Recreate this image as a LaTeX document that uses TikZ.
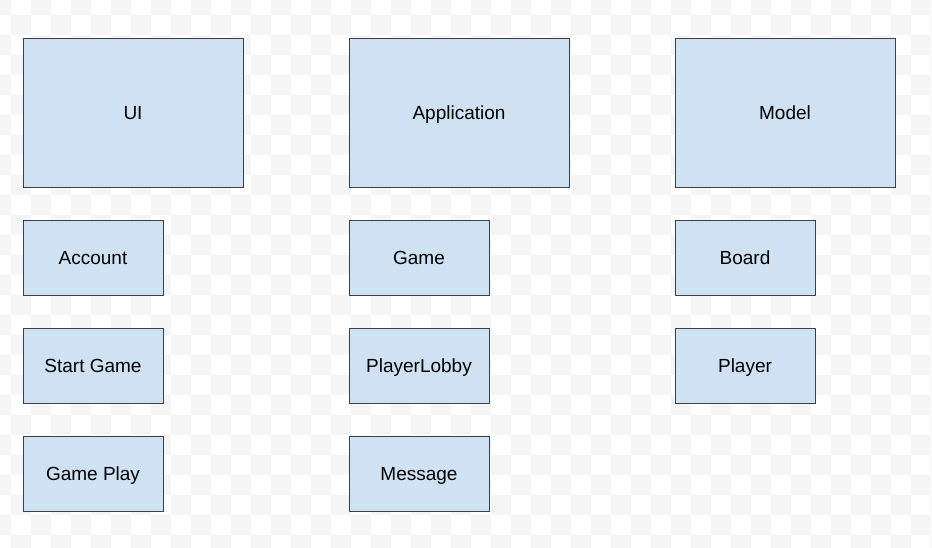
\documentclass[tikz,border=0pt]{standalone}
\usepackage{fontspec}
\setmainfont{Liberation Sans}
\usepackage{tikz}
\usetikzlibrary{positioning}
\definecolor{boxblue}{HTML}{CFE2F3}
\definecolor{checkgrey}{HTML}{F5F5F5}
\tikzstyle{layer} = [rectangle, draw=black!75, line width=1pt, fill=boxblue,
  minimum width=220, minimum height=149, inner sep=0pt,
  text height=13.6pt, text depth=0pt,
  font={\fontsize{19}{23}\selectfont}]
\tikzstyle{box} = [layer, minimum width=140, minimum height=75]

\begin{document}
\begin{tikzpicture}[x=1pt, y=-1pt]
    % checkered backdrop
    \useasboundingbox (0,0) rectangle (932,547);
    \begin{scope}
      \clip (0,0) rectangle (932,547);
      \fill [white] (0,0) rectangle (932,547);
      \foreach \i in {0,...,47}{
        \foreach \j in {0,...,28}{
          \pgfmathtruncatemacro\odd{mod(\i+\j,2)}
          \ifnum\odd=0
            \fill [checkgrey] (-9+20*\i,-5+20*\j) rectangle ++(20,20);
          \fi
        }
      }
    \end{scope}
    % layers
    \node [layer] at (133,112.5) (ui) {UI};
    \node [layer] at (459,112.5) (application) {Application};
    \node [layer] at (785,112.5) (model) {Model};
    % UI parts
    \node [box] at (93,257.5) (account) {Account};
    \node [box] at (93,365.5) (startgame) {Start Game};
    \node [box] at (93,473.5) (gameplay) {Game Play};
    % application parts
    \node [box] at (419,257.5) (game) {Game};
    \node [box] at (419,365.5) (playerlobby) {PlayerLobby};
    \node [box] at (419,473.5) (message) {Message};
    % model parts
    \node [box] at (745,257.5) (board) {Board};
    \node [box] at (745,365.5) (player) {Player};
\end{tikzpicture}
\end{document}
